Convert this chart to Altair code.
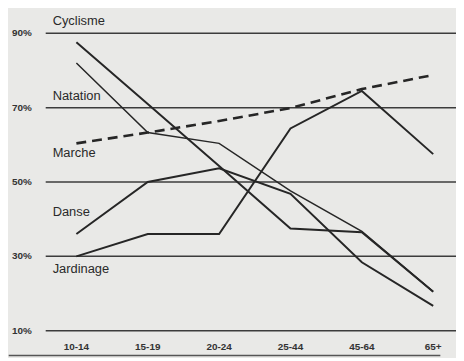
import altair as alt
import pandas as pd

# ---- data ----
ages = ["10-14", "15-19", "20-24", "25-44", "45-64", "65+"]
cyclisme = [87.6, 71.0, 54.3, 37.5, 36.5, 20.5]
natation = [82.0, 63.3, 60.4, 47.6, 36.7, 20.5]
marche = [60.4, 63.3, 66.4, 69.9, 75.0, 78.8]
danse = [36.0, 50.0, 53.7, 46.8, 28.4, 16.7]
jardinage = [30.0, 36.0, 36.0, 64.4, 74.5, 57.5]

series_names = ["Cyclisme", "Natation", "Marche", "Danse", "Jardinage"]
series_values = [cyclisme, natation, marche, danse, jardinage]
series_label_y = [93.2, 73.2, 57.7, 42.0, 26.5]

grid_values = [10, 30, 50, 70, 90]
grid_labels = ["10%", "30%", "50%", "70%", "90%"]

# ---- layout ----
W, H = 452, 350
x0 = -69 / 72
xscale = alt.Scale(domain=[x0, x0 + W / 72], nice=False, zero=False)
yscale = alt.Scale(domain=[96.4 - H / 3.75, 96.4], nice=False, zero=False)
INK = "#262626"
FONT = "Liberation Sans"

def X(field):
    return alt.X(f"{field}:Q", scale=xscale, axis=None)

def Y(field):
    return alt.Y(f"{field}:Q", scale=yscale, axis=None)

grid_df = pd.DataFrame({"v": grid_values, "lab": grid_labels,
                        "xa": [-0.43] * 5, "xb": [x0 + W / 72] * 5, "xl": [-0.903] * 5})
grid = alt.Chart(grid_df).mark_rule(color="#3c3c3c", strokeWidth=1.5).encode(
    x=X("xa"), x2="xb", y=Y("v"))
ylabels = alt.Chart(grid_df).mark_text(align="left", baseline="middle", font=FONT,
                                       fontSize=10, fontWeight="bold", color="#333").encode(
    x=X("xl"), y=Y("v"), text="lab:N")

base_df = pd.DataFrame({"xa": [x0 + 0.01], "xb": [5.1], "v": [3.3]})
baseline = alt.Chart(base_df).mark_rule(color="#555", strokeWidth=1.5).encode(
    x=X("xa"), x2="xb", y=Y("v"))

xl_df = pd.DataFrame({"i": list(range(len(ages))), "lab": ages, "v": [5.5] * len(ages)})
xlabels = alt.Chart(xl_df).mark_text(align="center", baseline="middle", font=FONT,
                                     fontSize=10, fontWeight="bold", color="#333").encode(
    x=X("i"), y=Y("v"), text="lab:N")

layers = [grid, baseline, ylabels, xlabels]
widths = {"Cyclisme": 2, "Natation": 1.5, "Marche": 2.6, "Danse": 2, "Jardinage": 2}
for name, vals in zip(series_names, series_values):
    df = pd.DataFrame({"i": list(range(len(ages))), "v": vals})
    kw = dict(color=INK, strokeWidth=widths[name], strokeJoin="miter")
    if name == "Marche":
        kw["strokeDash"] = [10, 6]
    layers.append(alt.Chart(df).mark_line(**kw).encode(x=X("i"), y=Y("v")))

lab_df = pd.DataFrame({"name": series_names, "v": series_label_y,
                       "xl": [-0.333] * len(series_names)})
slabels = alt.Chart(lab_df).mark_text(align="left", baseline="middle", font=FONT,
                                      fontSize=13, color="#2a2a2a").encode(
    x=X("xl"), y=Y("v"), text="name:N")
layers.append(slabels)

chart = alt.layer(*layers).properties(
    width=W, height=H, padding=0, autosize=alt.AutoSizeParams(type="none"),
    background="#e9e9e7"
).configure_view(stroke=None)

chart.save("out.html", embed_options={"renderer": "svg", "actions": False})
